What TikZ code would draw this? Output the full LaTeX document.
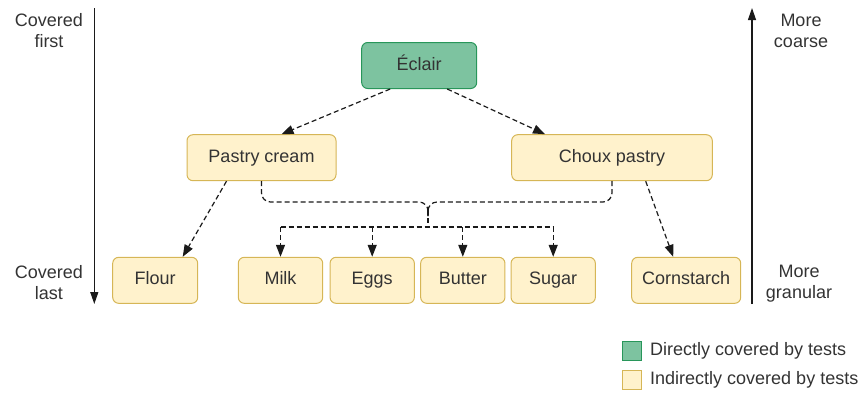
\documentclass[tikz,border=0pt]{standalone}
\usepackage{fontspec}
\setmainfont{Liberation Sans}
\usetikzlibrary{arrows.meta,calc}
\definecolor{txt}{HTML}{333333}
\definecolor{ln}{HTML}{1A1A1A}
\definecolor{gfill}{RGB}{125,195,160}
\definecolor{gdraw}{RGB}{40,150,90}
\definecolor{yfill}{HTML}{FFF2CC}
\definecolor{ydraw}{HTML}{D6B656}
\begin{document}
\begin{tikzpicture}[x=1pt,y=-1pt,
  lbl/.style={inner sep=0pt, text=txt, font=\fontsize{18}{21}\selectfont},
  box/.style={lbl, rounded corners=6pt, line width=1pt, minimum height=46pt, text height=13pt, text depth=4pt},
  ybox/.style={box, fill=yfill, draw=ydraw},
  gbox/.style={box, fill=gfill, draw=gdraw},
  dashline/.style={draw=ln, line width=1.2pt, dash pattern=on 5pt off 3pt},
  dep/.style={dashline, -{Triangle[length=12pt,width=9pt]}},
  axis/.style={draw=ln, line width=1.2pt, -{Triangle[length=12pt,width=8pt]}},
  legsq/.style={line width=1pt, minimum size=19pt, inner sep=0pt}
]
\useasboundingbox (0,0) rectangle (867,392);

% nodes
\node[gbox, minimum width=115pt] (ecl) at (419.2,65.5) {Éclair};
\node[ybox, minimum width=149pt] (pc) at (261.5,157.7) {Pastry cream};
\node[ybox, minimum width=200.6pt] (cp) at (612,157.7) {Choux pastry};
\node[ybox, minimum width=85pt] (flour) at (155.2,280.3) {Flour};
\node[ybox, minimum width=84.4pt] (milk) at (280.5,280.3) {Milk};
\node[ybox, minimum width=84.3pt] (eggs) at (372.2,280.3) {Eggs};
\node[ybox, minimum width=84.3pt] (butter) at (462.8,280.3) {Butter};
\node[ybox, minimum width=84.3pt] (sugar) at (553.2,280.3) {Sugar};
\node[ybox, minimum width=109pt] (corn) at (686.2,280.3) {Cornstarch};

% dependencies
\draw[dep] ($(ecl.south)+(-29,0)$) -- ($(pc.north)+(20,0)$);
\draw[dep] ($(ecl.south)+(28,0)$) -- ($(cp.north)+(-67,0)$);
\draw[dep] ($(pc.south)+(-35,0)$) -- ($(flour.north)+(27.5,0)$);
\draw[dep] ($(cp.south)+(33.7,0)$) -- ($(corn.north)+(-13,0)$);

% shared bus
\coordinate (jt) at (428,202);
\coordinate (jb) at (428,227);
\draw[dashline, rounded corners=9pt] (pc.south) -- (pc.south |- jt) -- (jt) -- ($(jt)+(0,14)$);
\draw[dashline, rounded corners=9pt] (cp.south) -- (cp.south |- jt) -- (jt) -- ($(jt)+(0,14)$);
\draw[dashline] ($(jt)+(0,8)$) -- (jb);
\draw[dashline] (milk.north |- jb) -- (sugar.north |- jb);
\draw[dep] (milk.north |- jb) -- (milk.north);
\draw[dep] (eggs.north |- jb) -- (eggs.north);
\draw[dep] (butter.north |- jb) -- (butter.north);
\draw[dep] (sugar.north |- jb) -- (sugar.north);

% axes
\coordinate (lt) at (94.3,8);
\coordinate (lb) at (94.3,304);
\coordinate (rt) at (752,8);
\coordinate (rb) at (752,304);
\draw[axis] (lt) -- (lb);
\draw[axis] (rb) -- (rt);
\node[lbl, align=center] (cf) at (49,31) {Covered\\first};
\node[lbl, align=center] (cl) at (49,282.5) {Covered\\last};
\node[lbl, align=center] (mc) at (801,30.5) {More\\coarse};
\node[lbl, align=center] (mg) at (799,283.4) {More\\granular};

% legend
\node[legsq, fill=gfill, draw=gdraw] (lg) at (632,351.2) {};
\node[legsq, fill=yfill, draw=ydraw] (ly) at (632,379.5) {};
\node[lbl, anchor=west] (lgt) at (650,351.2) {Directly covered by tests};
\node[lbl, anchor=west] (lyt) at (650,379.5) {Indirectly covered by tests};
\end{tikzpicture}
\end{document}
